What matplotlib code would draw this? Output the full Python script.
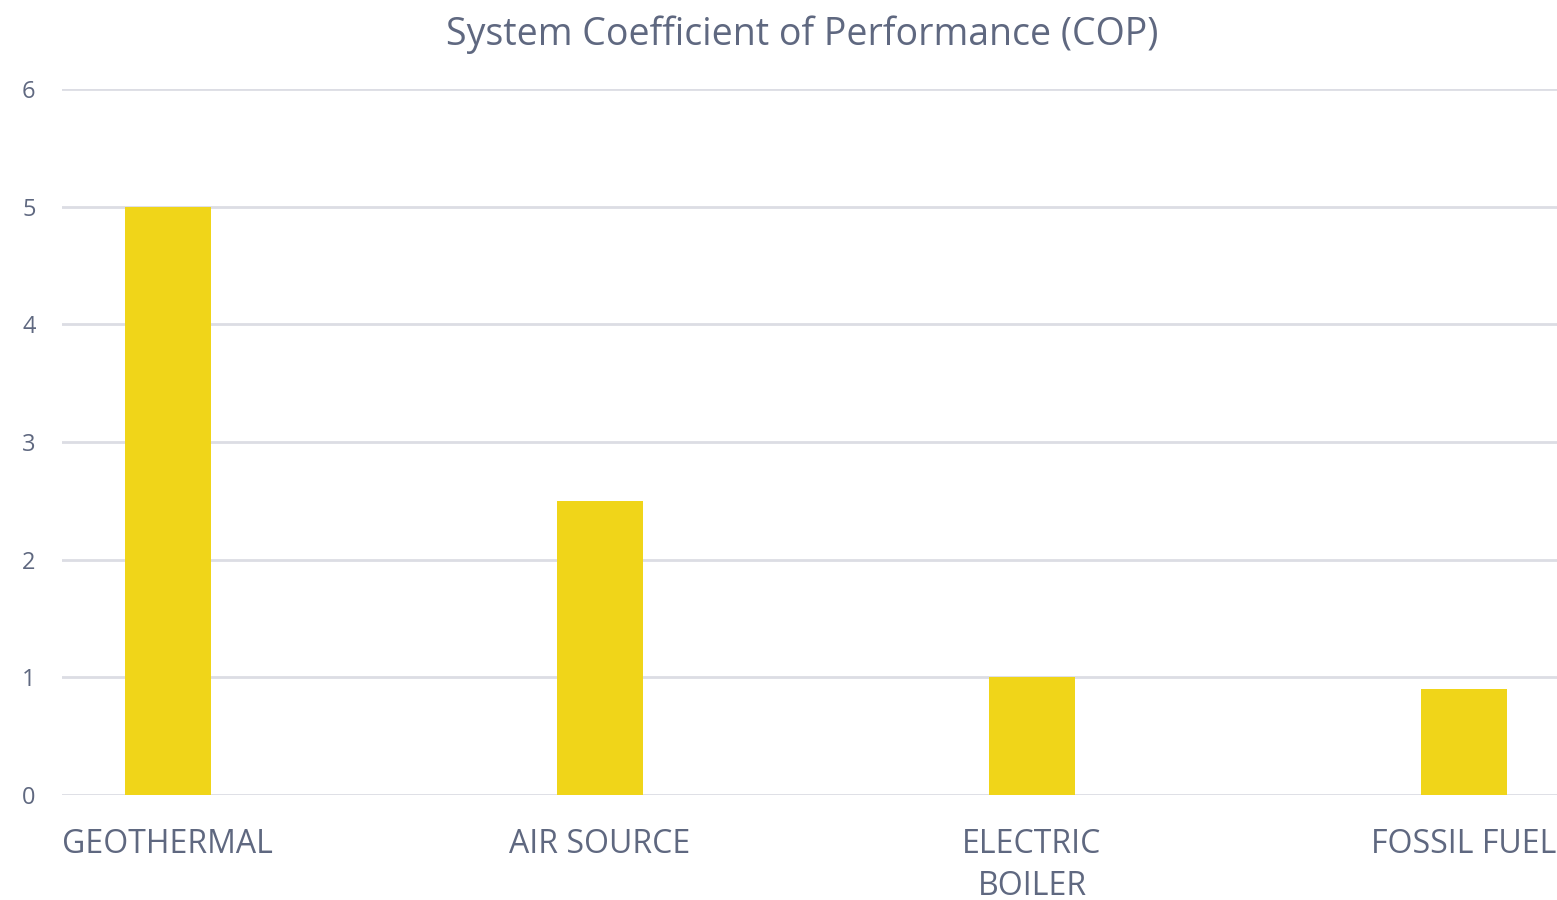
import matplotlib.pyplot as plt
import numpy as np

# chart data
categories = ['GEOTHERMAL', 'AIR SOURCE', 'ELECTRIC\nBOILER', 'FOSSIL FUEL']
cop_values = [5.0, 2.5, 1.0, 0.9]
y_ticks = [0, 1, 2, 3, 4, 5, 6]

text_color = '#5f6880'
grid_color = '#dcdde4'
bar_color = '#f0d519'

plt.rcParams['font.family'] = ['Open Sans', 'DejaVu Sans']

fig = plt.figure(figsize=(15.57, 9.0), dpi=100)
ax = fig.add_axes([62 / 1557, 1 - 795 / 900, 1 - 62 / 1557, (795 - 89) / 900])

x = np.arange(len(categories))
ax.bar(x, cop_values, width=0.2, color=bar_color, zorder=3)

ax.set_xlim(-0.245, 3.215)
ax.set_ylim(0, 6)
ax.set_yticks(y_ticks)
ax.set_xticks(x)
ax.set_xticklabels(categories, linespacing=1.35)

ax.grid(axis='y', color=grid_color, linewidth=2, zorder=0)
ax.grid(axis='x', visible=False)
for s in ax.spines.values():
    s.set_visible(False)

ax.tick_params(axis='y', length=0, pad=19, labelsize=17, labelcolor=text_color)
ax.tick_params(axis='x', length=0, pad=24, labelsize=23, labelcolor=text_color)

fig.text(802 / 1557, 1 - 35 / 900, 'System Coefficient of Performance (COP)',
         ha='center', va='center', fontsize=27, color=text_color)

fig.savefig('out.png', dpi=100)
